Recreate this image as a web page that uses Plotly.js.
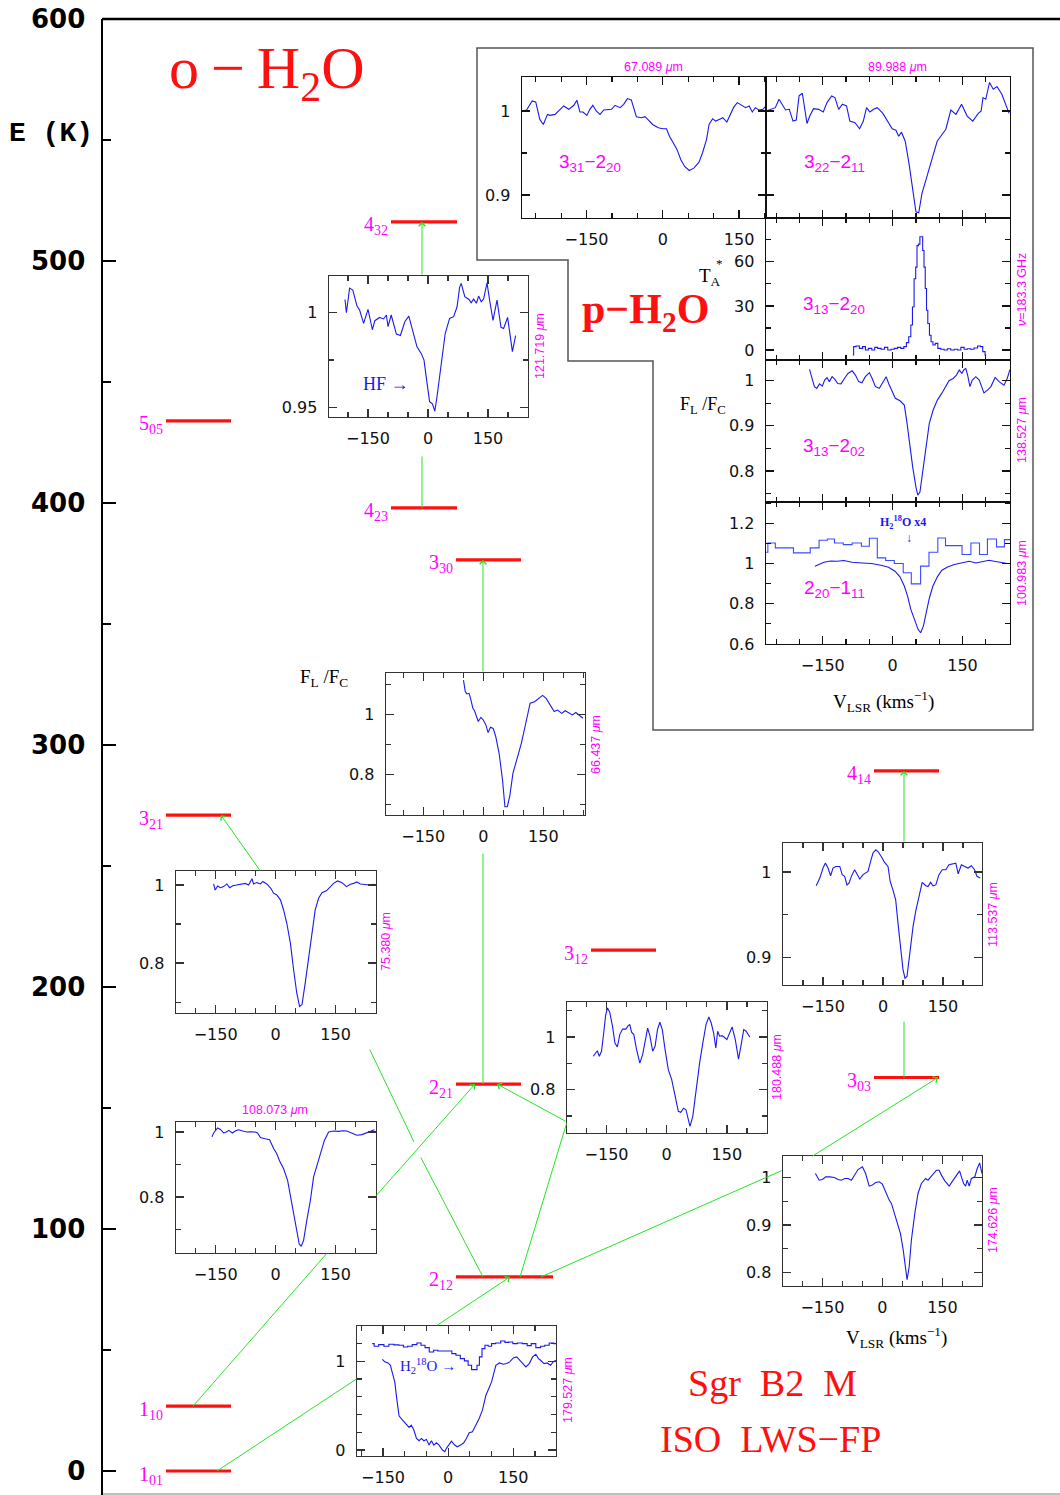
<!DOCTYPE html>
<html><head><meta charset="utf-8">
<script src="https://cdn.plot.ly/plotly-3.0.1.min.js"></script>
<style>html,body{margin:0;padding:0;background:#fff}</style>
</head><body><div id="chart" style="width:1060px;height:1495px"></div>
<script>
// ================= DATA =================
// o-H2O energy levels (K above ground 1_01)
const levelNames = ['1<sub>01</sub>','1<sub>10</sub>','2<sub>12</sub>','2<sub>21</sub>','3<sub>03</sub>','3<sub>12</sub>','3<sub>21</sub>','4<sub>14</sub>','3<sub>30</sub>','4<sub>23</sub>','5<sub>05</sub>','4<sub>32</sub>'];
const levelE = [0, 26.8, 80.2, 159.9, 162.6, 215.2, 271.0, 289.3, 376.5, 398.0, 433.9, 516.2];
const energyTicks = [0, 100, 200, 300, 400, 500, 600];
const velTicks = [-150, 0, 150];

// spectra: [velocity km/s, F_L/F_C]
const spec121 = [[-207.5,1.007],[-204,1.000],[-196,1.013],[-188,1.012],[-177.5,1.0035],[-171,1.0014],[-161,0.9944],[-150,1.0018],[-139,0.991],[-133,0.9958],[-121,0.9975],[-111,0.9967],[-104,0.9988],[-100,0.9926],[-92,0.9988],[-79,0.9887],[-69,0.988],[-58,0.9952],[-48,0.9982],[-37.5,0.99],[-27.5,0.982],[-17,0.9785],[-10,0.975],[-4,0.9653],[4,0.953],[11,0.9518],[17,0.948],[22.5,0.9556],[29,0.966],[37.5,0.9785],[43,0.989],[54,0.997],[64,0.9979],[72.5,1.003],[79,1.0134],[83,1.0155],[92,1.0085],[102.5,1.007],[108,1.0053],[114,1.0072],[121,1.005],[126.5,1.0088],[133,1.0058],[139,1.0072],[147.5,1.0158],[154,1.0067],[162.5,0.996],[172.5,1.0067],[182.5,0.9923],[189,0.9917],[199,0.9975],[211,0.9794],[219,0.9879]];
const spec66 = [[-49.5,1.114],[-45,1.076],[-41,1.068],[-35.5,1.07],[-31,1.048],[-26,1.02],[-22,1.012],[-16.5,0.992],[-12.5,0.976],[-6,0.99],[0,0.981],[6.6,0.964],[12,0.939],[18,0.957],[24.7,0.953],[31,0.926],[39.5,0.87],[48,0.781],[54,0.692],[60,0.692],[66,0.726],[74,0.803],[84,0.853],[95,0.903],[107,0.976],[117,1.037],[128,1.042],[138.5,1.053],[148,1.063],[157,1.053],[166.5,1.031],[177,1.009],[185.5,1.014],[196,1.003],[204.5,1.012],[214,1.006],[222.5,0.998],[231,1.006],[239,0.998],[249,0.987]];
const spec75 = [[-155,1.0026],[-151,0.987],[-145,0.9974],[-138,0.993],[-130,0.9957],[-122,1.0026],[-115,0.993],[-107,0.998],[-97,1.0],[-87,1.002],[-76,1.004],[-67.5,1.0],[-59,1.016],[-55,1.0026],[-47,1.006],[-38,1.0026],[-32,1.009],[-22,1.0026],[-12,0.9915],[-5,0.979],[3,0.9745],[12,0.962],[20,0.936],[28,0.902],[37,0.851],[45,0.783],[53,0.723],[60,0.689],[66,0.694],[74,0.749],[82.5,0.817],[91,0.885],[99,0.936],[107.5,0.966],[116,0.98],[127,0.985],[137,0.9957],[145,1.004],[155,1.0102],[166,1.006],[177,0.9957],[187,1.0017],[195,1.004],[203,1.0077],[212,1.0026],[224,1.0017],[235,1.0],[245,1.0017]];
const spec108 = [[-159,0.985],[-155,0.997],[-145,1.0123],[-138,1.008],[-130,0.997],[-123,1.0],[-117,1.005],[-108,0.997],[-101,1.003],[-92.5,1.007],[-82,1.003],[-72,1.0],[-62,1.001],[-51,1.0],[-45,0.997],[-38,0.983],[-26,0.979],[-15,0.976],[-5,0.949],[3,0.933],[10,0.911],[20,0.887],[30,0.851],[38,0.8],[47,0.738],[53,0.697],[59,0.656],[64,0.648],[70,0.667],[78,0.728],[87,0.79],[95,0.862],[103,0.897],[112,0.933],[122,0.974],[132.5,1.0],[145,1.003],[157.5,1.002],[168,1.004],[178,1.003],[191,0.997],[203,0.99],[216,0.992],[228,0.997],[238,1.003],[247,1.007]];
const spec179 = [[-151.5,1.022],[-146,0.993],[-138.5,0.981],[-133,0.955],[-128.5,0.869],[-123,0.768],[-118,0.562],[-113,0.382],[-105,0.337],[-98,0.30],[-90,0.255],[-85,0.281],[-79,0.225],[-73,0.131],[-67,0.105],[-61.5,0.131],[-56,0.105],[-50,0.12],[-44,0.056],[-38.5,0.105],[-33,0.056],[-27,0.082],[-21,0.056],[-13,0.0],[-7.7,-0.019],[-4,0.019],[4,0.075],[7.7,0.101],[15,0.056],[21,0.037],[28.5,0.056],[36,0.082],[42,0.131],[48.5,0.195],[56,0.206],[64,0.281],[71.5,0.356],[79,0.449],[87,0.618],[92,0.674],[100,0.768],[110,0.955],[118,0.981],[127,0.966],[134.6,0.974],[142,0.993],[150,1.037],[158,1.049],[165,1.011],[173,0.974],[179,0.936],[187,0.974],[194.6,1.049],[202,1.079],[208,1.03],[213,1.011],[221,0.974],[228,0.981],[236,0.955],[242,0.993],[248,1.011]];
const spec179iso = [[-175,1.199],[-166,1.169],[-154,1.187],[-142,1.169],[-131,1.191],[-119,1.184],[-108,1.18],[-98,1.161],[-88.5,1.169],[-77,1.187],[-67,1.206],[-58,1.18],[-48.5,1.154],[-38.5,1.105],[-28.5,1.124],[-19,1.116],[-7.7,1.116],[4,1.116],[13,1.086],[23,1.067],[33,1.03],[42,1.004],[50,0.955],[58,0.906],[64,0.906],[69,0.955],[75,1.049],[81,1.142],[88.5,1.18],[96,1.169],[104,1.199],[115,1.206],[127,1.228],[134.6,1.213],[144,1.217],[154,1.199],[165,1.206],[177,1.199],[187,1.176],[196,1.199],[208,1.154],[218,1.169],[227,1.18],[238.5,1.206],[248.5,1.199]];
const spec180 = [[-183,0.927],[-177,0.942],[-173,0.948],[-168,0.927],[-162.5,0.946],[-157,1.015],[-152,1.085],[-147.5,1.11],[-142,1.094],[-135,1.04],[-129,0.977],[-123,0.962],[-117,1.009],[-110,1.03],[-102,1.03],[-96,1.043],[-92,1.047],[-87.5,1.018],[-82,1.009],[-75,0.952],[-67,0.901],[-60,0.933],[-53,0.99],[-47.5,1.034],[-42,1.005],[-35,0.946],[-29,0.965],[-23,1.028],[-17,1.056],[-11,1.028],[-4,0.952],[4,0.876],[12.5,0.838],[21,0.775],[29,0.718],[35,0.714],[42,0.73],[48,0.724],[54,0.686],[58,0.661],[65,0.699],[73,0.8],[82,0.901],[90,0.977],[98,1.047],[105,1.076],[111,1.053],[117,1.015],[122.5,0.958],[127,1.022],[132,1.003],[137.5,1.005],[143,1.0],[150,0.99],[157,1.015],[163,1.038],[171,0.99],[179,0.916],[185,0.965],[192,1.028],[198,1.022],[207,1.0]];
const spec113 = [[-167,0.984],[-158,0.993],[-150,1.0047],[-144,1.0105],[-137.5,1.0047],[-131,0.9957],[-125,1.0047],[-118,1.0066],[-108,1.0066],[-102,0.997],[-96,0.995],[-90,0.985],[-85,0.987],[-79,0.995],[-71,1.0027],[-65,0.998],[-58,0.9918],[-50,0.997],[-43,0.9988],[-37.5,1.0008],[-31,1.0125],[-25,1.0223],[-18,1.026],[-12.5,1.024],[-4,1.018],[4,1.0113],[12.5,1.0066],[18,0.989],[25,0.979],[31.7,0.9676],[37.5,0.94],[44,0.909],[50,0.886],[55,0.876],[60,0.878],[67,0.905],[75,0.936],[81.7,0.954],[90,0.971],[98,0.988],[107,0.984],[112.5,0.983],[119,0.988],[125,0.984],[132,0.985],[140,0.997],[148,1.0027],[157,1.0027],[165,1.0086],[173,1.0098],[182,1.0105],[188,0.998],[196,1.0086],[204,1.0066],[212.5,1.0047],[221,1.0074],[229,1.0027],[235,0.995],[243,0.993]];
const spec174 = [[-167.5,1.0084],[-163,1.0014],[-158,0.9944],[-150,0.9958],[-141.7,1.0014],[-131.7,1.0014],[-120,1.0],[-111,0.9958],[-102.5,0.9944],[-94,0.998],[-86,0.998],[-77.5,0.9944],[-69,1.005],[-61,1.0168],[-50,1.0224],[-42,1.0084],[-33,0.9818],[-25,0.984],[-17,0.9895],[-8,0.991],[0,0.986],[8,0.97],[17,0.9524],[22.5,0.9455],[31,0.921],[39,0.8965],[45,0.8825],[52,0.8476],[57.5,0.809],[61.7,0.7846],[67,0.8126],[72.5,0.8685],[81,0.9245],[89,0.9664],[97.5,0.9874],[108,0.998],[114,0.9944],[125,1.005],[135,1.0154],[142,1.0154],[147.5,1.005],[156,0.993],[167,0.9818],[177,0.9944],[187,1.0084],[193,1.014],[197.5,1.0014],[203,0.9874],[208,0.9818],[212,0.9944],[217,0.9818],[222.5,0.998],[231,1.0014],[237,1.019],[243,1.0308],[249,1.0084]];
// p-H2O
const spec67 = [[-277,1.0],[-268,1.0012],[-257,1.012],[-250,1.0108],[-242,0.99],[-235,0.984],[-227,0.996],[-222,0.9948],[-212,0.996],[-205,1.0],[-195,1.006],[-185,1.002],[-175,1.0068],[-169,1.0128],[-163,0.9988],[-157,0.9988],[-149.5,0.9948],[-143.5,1.002],[-137.6,1.0068],[-131,1.0],[-123.6,0.996],[-116,1.0012],[-109,1.0012],[-101,1.002],[-94,1.0068],[-84,1.004],[-77,1.008],[-69.6,1.0148],[-62,1.0132],[-52,0.9932],[-42,0.992],[-35,0.9932],[-29.6,0.99],[-20,0.984],[-9,0.98],[0,0.9788],[7.4,0.9788],[13,0.97],[20.7,0.962],[28,0.954],[35.5,0.942],[43,0.934],[52,0.9292],[61,0.932],[71,0.9388],[78,0.95],[86,0.966],[91,0.984],[98,0.9908],[104,0.988],[111,0.99],[118,0.992],[126,0.9868],[132,0.9948],[139,1.004],[146.5,1.01],[154,1.0068],[163,1.004],[170,1.006],[176,0.9988],[182,1.004],[189,1.0012],[197,1.002],[203,1.006]];
const spec90 = [[-272,1.0],[-262,1.002],[-252,1.004],[-244,1.014],[-236,1.006],[-230,1.0012],[-222,1.002],[-214,0.988],[-207,0.9892],[-201,1.018],[-194,1.0212],[-184,0.9852],[-178,0.994],[-170,1.0028],[-159,1.002],[-149,0.9988],[-141,1.01],[-131,1.018],[-124,1.016],[-116,1.002],[-108,1.008],[-99,1.006],[-92,0.988],[-81,0.986],[-71,0.9788],[-63,0.988],[-56,1.004],[-49,0.9988],[-41,1.002],[-33,1.004],[-21,0.9972],[-11,0.988],[-1,0.9788],[7,0.9772],[13,0.97],[19,0.9748],[27,0.964],[35,0.938],[43,0.91],[50,0.88],[56,0.8788],[63,0.902],[71.5,0.918],[82,0.938],[95.6,0.964],[106,0.972],[114,0.978],[125,1.0012],[136,0.996],[148,1.008],[160,0.994],[172,0.988],[184,0.9972],[190,1.0],[194,1.016],[200,1.014],[208,1.034],[216,1.026],[224,1.0292],[234.5,1.02],[244,1.006],[250,0.9972]];
const spec183 = [[-85.7,-3.4],[-82,2.3],[-75,2.7],[-68,1.1],[-61,2.3],[-56,0],[-48.6,1.1],[-41,0],[-36,1.8],[-28.6,1.1],[-21,0.5],[-14,1.8],[-7,0],[0,0.5],[7,1.1],[14,1.8],[21,1.1],[27,2.3],[32,5],[37,9],[41,17],[44,29.3],[48,48.5],[51,56.4],[53.6,71],[57,72],[60,77],[63,77],[66,67.7],[68.6,56.4],[71.4,41.8],[74,27],[77,18],[81,10],[84,5.6],[89,3.4],[94,4.5],[100,1.1],[107,0.5],[114,0],[121,0.9],[128.6,0],[135.7,0.5],[143,0],[150,1.8],[157,0.5],[164,0.9],[171,0.5],[178.6,1.4],[186,2.7],[191,2.3],[196,-1.1],[201,-3.4]];
const spec138 = [[-178.6,1.025],[-173,1.005],[-168,0.987],[-163,0.983],[-157,0.993],[-151,0.988],[-146,1.0015],[-141,1.007],[-136,0.998],[-130,1.009],[-124,1.003],[-118,0.994],[-111,0.993],[-103.6,1.005],[-96,1.016],[-87,1.022],[-80,1.0126],[-73,0.998],[-66,0.9956],[-58.6,1.009],[-50,1.018],[-44,1.005],[-37,0.987],[-28.6,0.983],[-21,0.998],[-14,1.009],[-8.6,0.994],[-1.4,0.9756],[5.7,0.961],[15.7,0.9556],[25,0.946],[30,0.9126],[35.7,0.861],[43,0.809],[50,0.764],[54,0.746],[58.6,0.753],[64,0.794],[71,0.853],[78.6,0.905],[87,0.935],[96,0.957],[106,0.973],[114,0.987],[121,1.0],[130,1.005],[137,1.0126],[143,1.0237],[148.6,1.0163],[153.6,1.025],[157,1.027],[161,1.0126],[166,0.987],[171,1.0015],[178.6,1.009],[186,1.0015],[191,0.987],[196,0.973],[203.6,0.979],[211,0.987],[220,1.0074],[228.6,0.998],[239,0.99],[246,1.005],[252,1.025]];
const spec100 = [[-167,0.987],[-164,0.99],[-158,1.0],[-147.5,1.0066],[-133,1.013],[-119,1.0116],[-105,1.015],[-87,1.0066],[-66,1.003],[-45,1.0],[-23,0.99],[-9,0.982],[5,0.962],[15.6,0.934],[25,0.888],[32,0.838],[39,0.772],[47.5,0.714],[54.6,0.673],[60,0.656],[66,0.689],[72,0.755],[79,0.83],[86.5,0.888],[96,0.934],[105.7,0.967],[118,0.983],[132.6,0.995],[150,1.003],[164.5,1.0116],[178.7,1.003],[193,1.01],[207,1.0165],[217.7,1.0116],[232,1.0066],[246,1.0]];
const spec100iso = [[-272,1.056],[-268,1.102],[-252,1.078],[-213,1.053],[-177,1.078],[-158,1.116],[-140,1.122],[-125,1.102],[-106,1.094],[-87,1.102],[-67,1.086],[-50,1.126],[-33,1.028],[-15,1.015],[3.5,1.0],[22.7,0.954],[40,0.899],[60,0.987],[78,1.056],[97,1.127],[113.5,1.089],[149,1.045],[168,1.102],[186.5,1.045],[203.5,1.122],[223,1.083],[240,1.119],[252,1.119]];

// ================= LAYOUT HELPERS (positions in page pixels) =================
const W = 1060, H = 1495;
const fx = p => p / W;
const fy = p => 1 - p / H;
const Y0PX = 1471, PXPERK = (1471 - 19) / 600;
const kOf = py => (Y0PX - py) / PXPERK;   // pixel row -> main axis value (layout positions only)

const RED = '#ff1010', MAG = '#ff00ff', BLUE = '#1a1aee', GREEN = '#22e622';
const tickFont = {family: 'DejaVu Sans', size: 16, color: '#111'};

// level bar horizontal positions (page px), same order as levelE
const levelXpx = [[166,231],[166,231],[456,553],[456,521],[874,939],[591,656],[166,231],[874,939],[456,521],[391,457],[166,231],[391,457]];

const layout = {
  width: W, height: H, margin: {l:0, r:0, t:0, b:0},
  paper_bgcolor: '#fff', plot_bgcolor: 'rgba(0,0,0,0)', showlegend: false,
  xaxis: {domain: [fx(103), 1], range: [103, 1060], visible: false, fixedrange: true},
  yaxis: {domain: [0, fy(19)], range: [kOf(1495), 600], anchor: 'x',
    showline: true, linewidth: 2.5, linecolor: '#000', ticks: 'inside', ticklen: 13, tickwidth: 2, tickcolor: '#000',
    tickmode: 'array', tickvals: energyTicks, ticktext: energyTicks.map(String),
    minor: {ticks: 'inside', dtick: 50, tick0: 0, ticklen: 8, tickwidth: 2, tickcolor: '#000'},
    tickfont: {family: 'DejaVu Sans', size: 26, weight: 'bold', color: '#000'},
    ticklabelstandoff: 10, showgrid: false, zeroline: false, fixedrange: true},
  shapes: [], annotations: []
};
const traces = [];

// insets: frame [x0,x1,y0,y1] in px, x range, y range, y tick values, y minor step
const insets = [
  {spec:[spec121], frame:[329,528,276,417], xr:[-247.5,250], yr:[0.9449,1.0194], yt:[0.95,1], ytt:['0.95','1'], ym:0.025, xl:true, yl:true},
  {spec:[spec66], frame:[386,585,673,815], xr:[-243,254], yr:[0.6643,1.1377], yt:[0.8,1], ytt:['0.8','1'], ym:0.1, xl:true, yl:true},
  {spec:[spec75], frame:[176,376,871,1013], xr:[-249,251], yr:[0.6724,1.0357], yt:[0.8,1], ytt:['0.8','1'], ym:0.1, xl:true, yl:true},
  {spec:[spec108], frame:[176,376,1122,1253], xr:[-249,251], yr:[0.6277,1.0308], yt:[0.8,1], ytt:['0.8','1'], ym:0.1, xl:true, yl:true},
  {spec:[spec179, spec179iso], shape:['linear','hvh'], frame:[357,556,1326,1456], xr:[-210,248.5], yr:[-0.067,1.397], yt:[0,1], ytt:['0','1'], ym:0.2, xl:true, yl:true},
  {spec:[spec180], frame:[567,767,1002,1133], xr:[-248.5,250], yr:[0.6357,1.1328], yt:[0.8,1], ytt:['0.8','1'], ym:0.1, xl:true, yl:true},
  {spec:[spec113], frame:[783,982,843,985], xr:[-250,247.5], yr:[0.868,1.034], yt:[0.9,1], ytt:['0.9','1'], ym:0.05, xl:true, yl:true},
  {spec:[spec174], frame:[783,982,1156,1286], xr:[-248.5,249], yr:[0.7715,1.0453], yt:[0.8,0.9,1], ytt:['0.8','0.9','1'], ym:0.05, xl:true, yl:true},
  {spec:[spec67], frame:[522,766,77,218], xr:[-277,203], yr:[0.8726,1.0405], yt:[0.9,1], ytt:['0.9','1'], ym:0.05, xl:true, yl:true, dark:true},
  {spec:[spec90], frame:[766,1010,77,218], xr:[-272,252], yr:[0.8726,1.0405], yt:[0.9,1], ytt:['0.9','1'], ym:0.05, xl:false, yl:false, dark:true},
  {spec:[spec183], shape:['hvh'], frame:[766,1010,218,360], xr:[-272,252], yr:[-6.8,89.8], yt:[0,30,60], ytt:['0','30','60'], ym:15, xl:false, yl:true, dark:true},
  {spec:[spec138], frame:[766,1010,360,502], xr:[-272,252], yr:[0.731,1.046], yt:[0.8,0.9,1], ytt:['0.8','0.9','1'], ym:0.05, xl:false, yl:true, dark:true},
  {spec:[spec100, spec100iso], shape:['linear','hv'], frame:[766,1010,502,644], xr:[-272,252], yr:[0.6,1.306], yt:[0.6,0.8,1,1.2], ytt:['0.6','0.8','1','1.2'], ym:0.1, xl:true, yl:true, dark:true}
];

insets.forEach((c, i) => {
  const n = i + 2;
  const lc = c.dark ? '#111' : '#333';
  const common = {showline: true, mirror: 'ticks', linecolor: lc, linewidth: 1.4, ticks: 'inside', ticklen: 8, tickwidth: 1.3, tickcolor: lc,
    showgrid: false, zeroline: false, fixedrange: true, tickfont: tickFont, ticklabelstandoff: 5};
  layout['xaxis' + n] = Object.assign({}, common, {
    domain: [fx(c.frame[0]), fx(c.frame[1])], range: c.xr, anchor: 'y' + n,
    tickmode: 'array', tickvals: velTicks, ticktext: velTicks.map(v => v < 0 ? '\u2212' + Math.abs(v) : String(v)),
    showticklabels: c.xl, ticklabelstandoff: 6,
    minor: {ticks: 'inside', dtick: 50, tick0: 0, ticklen: 5, tickwidth: 1.2, tickcolor: lc}
  });
  layout['yaxis' + n] = Object.assign({}, common, {
    domain: [fy(c.frame[3]), fy(c.frame[2])], range: c.yr, anchor: 'x' + n,
    tickmode: 'array', tickvals: c.yt, ticktext: c.ytt, showticklabels: c.yl, ticklabelstandoff: 7,
    minor: {ticks: 'inside', dtick: c.ym, tick0: 0, ticklen: 5, tickwidth: 1.2, tickcolor: lc}
  });
  c.spec.forEach((s, k) => {
    const shp = c.shape ? c.shape[k] : 'linear';
    traces.push({x: s.map(p => p[0]), y: s.map(p => p[1]), xaxis: 'x' + n, yaxis: 'y' + n, mode: 'lines',
      line: {color: (shp === 'hv') ? '#3a4cff' : BLUE, width: 1.1, shape: shp}, hoverinfo: 'skip'});
  });
});

// energy level bars (main axes)
levelE.forEach((e, i) => {
  traces.push({x: levelXpx[i], y: [e, e], xaxis: 'x', yaxis: 'y', mode: 'lines', line: {color: RED, width: 3.2}, hoverinfo: 'skip'});
  layout.annotations.push({xref: 'x', yref: 'y', x: levelXpx[i][0] - 1, y: e, xanchor: 'right', yanchor: 'middle', yshift: -4,
    text: levelNames[i], showarrow: false, font: {family: 'Liberation Serif', size: 20, color: MAG}});
});

// transition lines: tail (page px) -> head (level)
function link(tx, ty, hx, hy, head) {
  layout.annotations.push({xref: 'x', yref: 'y', axref: 'x', ayref: 'y', x: hx, y: hy, ax: tx, ay: ty, text: '',
    showarrow: true, arrowhead: head ? 4 : 0, arrowsize: 1.3, arrowwidth: 1, arrowcolor: GREEN, standoff: 0, startstandoff: 0});
}
const L = name => levelE[levelNames.indexOf(name)];
link(422, kOf(276), 422, L('4<sub>32</sub>'), true);
link(422, kOf(455), 422, L('4<sub>23</sub>'), false);
link(483, kOf(673), 483, L('3<sub>30</sub>'), true);
link(483, kOf(852), 483, L('2<sub>21</sub>'), false);
link(261, kOf(872), 221, L('3<sub>21</sub>'), true);
link(369, kOf(1048), 414, kOf(1142), false);
link(420, kOf(1156), 483, L('2<sub>12</sub>'), false);
link(375, kOf(1197), 475, L('2<sub>21</sub>'), true);
link(328, kOf(1252), 193, L('1<sub>10</sub>'), false);
link(358, kOf(1378), 217, L('1<sub>01</sub>'), false);
link(436, kOf(1326), 510, L('2<sub>12</sub>'), true);
link(567, kOf(1122), 520, L('2<sub>12</sub>'), false);
link(567, kOf(1122), 497, L('2<sub>21</sub>'), true);
link(783, kOf(1170), 541, L('2<sub>12</sub>'), false);
link(811, kOf(1157), 938, L('3<sub>03</sub>'), true);
link(904, kOf(1020), 904, L('3<sub>03</sub>'), false);
link(904, kOf(843), 904, L('4<sub>14</sub>'), true);

// text helper (page px)
function txt(px, py, text, font, extra) {
  layout.annotations.push(Object.assign({xref: 'paper', yref: 'paper', x: fx(px), y: fy(py), text: text, showarrow: false,
    xanchor: 'center', yanchor: 'middle', font: font}, extra || {}));
}
const serif = (s, c, w) => ({family: 'Liberation Serif', size: s, color: c || '#000', weight: w || 'normal'});
const sans = (s, c, w) => ({family: 'Liberation Sans', size: s, color: c || '#000', weight: w || 'normal'});

txt(51, 133, 'E (K)', {family: 'Liberation Mono', size: 28, color: '#000', weight: 'bold'});
txt(267, 72, 'o\u2009\u2212\u2009H<sub>2</sub>O', serif(60, RED));
txt(645, 312, 'p\u2212H<sub>2</sub>O', serif(42, RED, 'bold'));
txt(772, 1383, 'Sgr  B2  M', serif(38, RED));
txt(770, 1439, 'ISO  LWS\u2212FP', serif(38, RED));
txt(324, 678, 'F<sub>L</sub> /F<sub>C</sub>', serif(19));
txt(703, 406, 'F<sub>L</sub> /F<sub>C</sub>', serif(18));
txt(710, 277, 'T<sub>A</sub>', serif(19));
txt(719, 263, '*', serif(13));
txt(386, 384, 'HF \u2192', serif(18, BLUE));
txt(428, 1366, 'H<sub>2</sub><sup>18</sup>O \u2192', serif(15, BLUE));
txt(903, 522, 'H<sub>2</sub><sup>18</sup>O x4', serif(12, BLUE, 'bold'));
txt(909, 538, '\u2193', sans(12, BLUE));
txt(883, 701, 'V<sub>LSR</sub> (kms<sup>\u22121</sup>)', serif(19));
txt(896, 1337, 'V<sub>LSR</sub> (kms<sup>\u22121</sup>)', serif(19));
// panel transition labels (p-H2O)
txt(590, 163, '3<sub>31</sub>\u22122<sub>20</sub>', sans(19, MAG));
txt(834, 163, '3<sub>22</sub>\u22122<sub>11</sub>', sans(19, MAG));
txt(834, 305, '3<sub>13</sub>\u22122<sub>20</sub>', sans(19, MAG));
txt(834, 447, '3<sub>13</sub>\u22122<sub>02</sub>', sans(19, MAG));
txt(834, 589, '2<sub>20</sub>\u22121<sub>11</sub>', sans(19, MAG));
// wavelength labels
txt(653, 67, '67.089 <i>\u03bc</i>m', sans(12.5, MAG));
txt(897, 67, '89.988 <i>\u03bc</i>m', sans(12.5, MAG));
txt(275, 1110, '108.073 <i>\u03bc</i>m', sans(12.5, MAG));
const rot = {textangle: -90};
txt(540, 346, '121.719 <i>\u03bc</i>m', sans(12.5, MAG), rot);
txt(596, 745, '66.437 <i>\u03bc</i>m', sans(12.5, MAG), rot);
txt(386, 942, '75.380 <i>\u03bc</i>m', sans(12.5, MAG), rot);
txt(777, 1067, '180.488 <i>\u03bc</i>m', sans(12.5, MAG), rot);
txt(993, 915, '113.537 <i>\u03bc</i>m', sans(12.5, MAG), rot);
txt(993, 1220, '174.626 <i>\u03bc</i>m', sans(12.5, MAG), rot);
txt(568, 1390, '179.527 <i>\u03bc</i>m', sans(12.5, MAG), rot);
txt(1022, 290, '<i>\u03bd</i>=183.3 GHz', sans(12.5, MAG), rot);
txt(1022, 430, '138.527 <i>\u03bc</i>m', sans(12.5, MAG), rot);
txt(1022, 573, '100.983 <i>\u03bc</i>m', sans(12.5, MAG), rot);

// frame lines and p-H2O box
const P = (x, y) => fx(x) + ',' + fy(y);
layout.shapes.push({type: 'line', xref: 'paper', yref: 'paper', x0: fx(102), y0: fy(19), x1: 1, y1: fy(19), line: {color: '#000', width: 2.5}});
layout.shapes.push({type: 'line', xref: 'paper', yref: 'paper', x0: fx(103), y0: fy(1494), x1: 1, y1: fy(1494), line: {color: '#aaa', width: 1.5}});
layout.shapes.push({type: 'path', xref: 'paper', yref: 'paper', layer: 'below',
  path: 'M' + P(477,48) + 'L' + P(1033,48) + 'L' + P(1033,730) + 'L' + P(653,730) + 'L' + P(653,361) + 'L' + P(568,361) + 'L' + P(568,260) + 'L' + P(477,260) + 'Z',
  line: {color: '#555', width: 1.5}});

Plotly.newPlot('chart', traces, layout, {staticPlot: true, displayModeBar: false});
</script></body></html>
